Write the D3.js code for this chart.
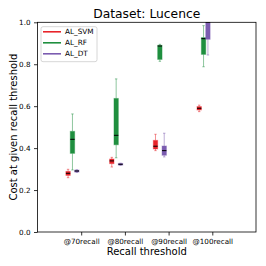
<!DOCTYPE html>
<html>
<head>
<meta charset="utf-8">
<script src="https://cdn.jsdelivr.net/npm/d3@7"></script>
<style>
  body { margin: 0; background: #fff; }
  text { font-family: "DejaVu Sans", sans-serif; }
</style>
</head>
<body>
<svg id="chart" width="266" height="266"></svg>
<script>
// data: [low whisker, q1, median, q3, high whisker] per recall threshold
var thresholds = ["@70recall", "@80recall", "@90recall", "@100recall"];
var seriesNames = ["AL_SVM", "AL_RF", "AL_DT"];
var svmStats = [
    [0.259, 0.270, 0.280, 0.289, 0.299],
    [0.310, 0.326, 0.339, 0.348, 0.356],
    [0.388, 0.396, 0.409, 0.437, 0.466],
    [0.574, 0.582, 0.590, 0.598, 0.605]
];
var rfStats = [
    [0.296, 0.375, 0.442, 0.480, 0.563],
    [0.354, 0.416, 0.461, 0.637, 0.730],
    [0.814, 0.823, 0.887, 0.890, 0.895],
    [0.788, 0.847, 0.922, 0.927, 0.984]
];
var dtStats = [
    [0.284, 0.286, 0.291, 0.295, 0.297],
    [0.318, 0.319, 0.323, 0.327, 0.328],
    [0.358, 0.366, 0.388, 0.410, 0.471],
    [0.844, 0.919, 1.000, 1.000, 1.000]
];
var yTicks = [0.0, 0.2, 0.4, 0.6, 0.8, 1.0];

var colors = ["#e8242a", "#1f8f3f", "#7b5cb0"];
var offsets = [-0.3, -0.2, -0.1];
var allStats = [svmStats, rfStats, dtStats];

var svg = d3.select("#chart");
var pL = 37.5, pR = 256, pT = 22.3, pB = 232;

var x = d3.scaleLinear().domain([0, 5]).range([pL, pR]);
var y = d3.scaleLinear().domain([0, 1]).range([pB, pT]);

svg.append("defs").append("clipPath").attr("id", "plotclip")
    .append("rect").attr("x", pL).attr("y", pT)
    .attr("width", pR - pL).attr("height", pB - pT);

var plot = svg.append("g").attr("clip-path", "url(#plotclip)");

var boxW = x(0.1) - x(0);
var capW = boxW * 0.55;

allStats.forEach(function(stats, s){
    var g = plot.append("g");
    stats.forEach(function(d, i){
        var cx = x(i + 1 + offsets[s]);
        var c = colors[s];
        // whiskers
        g.append("line").attr("x1", cx).attr("x2", cx)
            .attr("y1", y(d[0])).attr("y2", y(d[1]))
            .attr("stroke", c).attr("stroke-opacity", 0.5).attr("stroke-width", 1);
        g.append("line").attr("x1", cx).attr("x2", cx)
            .attr("y1", y(d[3])).attr("y2", y(d[4]))
            .attr("stroke", c).attr("stroke-opacity", 0.5).attr("stroke-width", 1);
        [d[0], d[4]].forEach(function(v){
            g.append("line").attr("x1", cx - capW / 2).attr("x2", cx + capW / 2)
                .attr("y1", y(v)).attr("y2", y(v))
                .attr("stroke", c).attr("stroke-opacity", 0.5).attr("stroke-width", 1);
        });
        // box
        g.append("rect")
            .attr("x", cx - boxW / 2).attr("width", boxW)
            .attr("y", y(d[3])).attr("height", Math.max(1, y(d[1]) - y(d[3])))
            .attr("fill", c).attr("stroke", c).attr("stroke-opacity", 0.4).attr("stroke-width", 1);
        // median
        g.append("line").attr("x1", cx - boxW / 2).attr("x2", cx + boxW / 2)
            .attr("y1", y(d[2])).attr("y2", y(d[2]))
            .attr("stroke", "#000").attr("stroke-width", 1);
    });
});

// axes
var xAxis = d3.axisBottom(x).tickValues([1, 2, 3, 4])
    .tickFormat(function(d){ return thresholds[d - 1]; })
    .tickSize(3.5).tickPadding(3.5);
var yAxis = d3.axisLeft(y).tickValues(yTicks).tickFormat(d3.format(".1f"))
    .tickSize(3.5).tickPadding(3.5);

var gx = svg.append("g").attr("transform", "translate(0," + pB + ")").call(xAxis);
var gy = svg.append("g").attr("transform", "translate(" + pL + ",0)").call(yAxis);
[gx, gy].forEach(function(g){
    g.select(".domain").remove();
    g.selectAll("line").attr("stroke", "#000").attr("stroke-width", 0.8);
    g.selectAll("text").attr("font-size", "7.2px").attr("fill", "#000")
        .style("font-family", "DejaVu Sans");
});

svg.append("rect").attr("x", pL).attr("y", pT)
    .attr("width", pR - pL).attr("height", pB - pT)
    .attr("fill", "none").attr("stroke", "#000").attr("stroke-width", 0.8);

// title and labels
svg.append("text").attr("x", (pL + pR) / 2).attr("y", 18)
    .attr("text-anchor", "middle").attr("font-size", "12.3px")
    .text("Dataset: Lucence");
svg.append("text").attr("x", (pL + pR) / 2).attr("y", 255)
    .attr("text-anchor", "middle").attr("font-size", "10px")
    .text("Recall threshold");
svg.append("text").attr("transform", "translate(16.5," + ((pT + pB) / 2) + ") rotate(-90)")
    .attr("text-anchor", "middle").attr("font-size", "10px")
    .text("Cost at given recall threshold");

// legend
var legend = svg.append("g");
legend.append("rect").attr("x", 41).attr("y", 26.7).attr("width", 56).attr("height", 35)
    .attr("rx", 2).attr("fill", "#fff").attr("fill-opacity", 0.8)
    .attr("stroke", "#ccc").attr("stroke-width", 0.8);
seriesNames.forEach(function(name, i){
    var ly = 31.8 + i * 11;
    legend.append("line").attr("x1", 43).attr("x2", 61).attr("y1", ly).attr("y2", ly)
        .attr("stroke", colors[i]).attr("stroke-width", 1.6);
    legend.append("text").attr("x", 65).attr("y", ly + 2.6)
        .attr("font-size", "7.3px").text(name);
});
</script>
</body>
</html>
